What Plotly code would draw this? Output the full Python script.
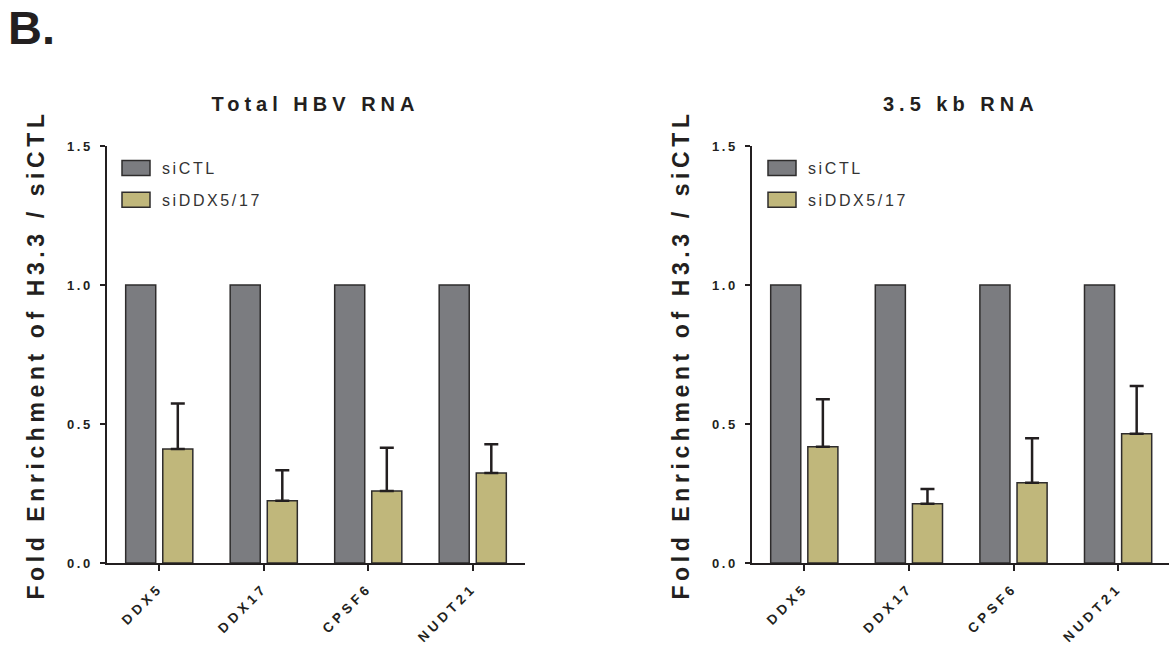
import plotly.graph_objects as go

categories = ["DDX5", "DDX17", "CPSF6", "NUDT21"]
series_names = ["siCTL", "siDDX5/17"]

total_siCTL = [1.0, 1.0, 1.0, 1.0]
total_siDDX = [0.41, 0.224, 0.259, 0.324]
total_siDDX_err = [0.164, 0.11, 0.156, 0.103]

kb_siCTL = [1.0, 1.0, 1.0, 1.0]
kb_siDDX = [0.418, 0.213, 0.289, 0.465]
kb_siDDX_err = [0.171, 0.053, 0.16, 0.172]

panel_titles = ["Total HBV RNA", "3.5 kb RNA"]
y_title = "Fold Enrichment of H3.3 / siCTL"
y_tickvals = [0.0, 0.5, 1.0, 1.5]
y_ticktext = ["0.0", "0.5", "1.0", "1.5"]

GRAY = "#7b7c80"
GOLD = "#c0b77b"
EDGE = "#2e2c2c"
INK = "#231f20"
FONT = "Arial, 'Liberation Sans', sans-serif"

W, H = 1169, 648

fig = go.Figure()

def add_panel(xa, ya, ctl, ddx, err, legend):
    fig.add_trace(go.Bar(
        x=categories, y=ctl, name=series_names[0], xaxis=xa, yaxis=ya,
        marker=dict(color=GRAY, line=dict(color=EDGE, width=1.5)),
        legend=legend, legendgroup=legend + "a",
    ))
    fig.add_trace(go.Bar(
        x=categories, y=ddx, name=series_names[1], xaxis=xa, yaxis=ya,
        marker=dict(color=GOLD, line=dict(color=EDGE, width=1.5)),
        error_y=dict(type="data", array=err, arrayminus=[0] * len(err), symmetric=False,
                     color=INK, thickness=2.5, width=7),
        legend=legend, legendgroup=legend + "b",
    ))

add_panel("x", "y", total_siCTL, total_siDDX, total_siDDX_err, "legend")
add_panel("x2", "y2", kb_siCTL, kb_siDDX, kb_siDDX_err, "legend2")

def px_x(p):
    return p / W

def px_y(p):
    return 1 - p / H

y_dom = [px_y(563), px_y(146)]

common_x = dict(
    type="category", showline=True, linecolor=INK, linewidth=1.5,
    ticks="outside", ticklen=6, tickwidth=1.5, tickcolor=INK,
    tickangle=-45, tickfont=dict(family=FONT, size=13.5, color=INK, weight="bold"),
    showgrid=False, zeroline=False, ticklabelstandoff=4, automargin=False,
)
common_y = dict(
    range=[0, 1.5], tickvals=y_tickvals, ticktext=y_ticktext,
    showline=True, linecolor=INK, linewidth=1.5,
    ticks="outside", ticklen=5, tickwidth=1.5, tickcolor=INK,
    tickfont=dict(family=FONT, size=13, color=INK, weight="bold"),
    showgrid=False, zeroline=False, ticklabelstandoff=5, automargin=False,
    title=dict(text=y_title, font=dict(family=FONT, size=23, color=INK, weight="bold"), standoff=24),
)

legend_style = dict(
    xanchor="left", yanchor="top",
    font=dict(family=FONT, size=16, color="#333333"),
    bgcolor="rgba(0,0,0,0)", tracegroupgap=8, itemclick=False, itemwidth=42,
)

fig.update_layout(
    width=W, height=H,
    margin=dict(l=0, r=0, t=0, b=0, pad=0, autoexpand=False),
    paper_bgcolor="white", plot_bgcolor="white",
    barmode="group", bargap=0.29, bargroupgap=0.19,
    font=dict(family=FONT, color=INK),
    xaxis=dict(common_x, domain=[px_x(107), px_x(525)], range=[-0.5, 3.5], anchor="y"),
    yaxis=dict(common_y, domain=y_dom, anchor="x"),
    xaxis2=dict(common_x, domain=[px_x(752), 1.0], range=[-0.5, -0.5 + (W - 752) / 104.6], anchor="y2"),
    yaxis2=dict(common_y, domain=y_dom, anchor="x2"),
    legend=dict(legend_style, x=px_x(110), y=px_y(151)),
    legend2=dict(legend_style, x=px_x(756), y=px_y(151)),
    annotations=[
        dict(text=panel_titles[0], x=px_x(315), y=px_y(104), xref="paper", yref="paper",
             showarrow=False, xanchor="center", yanchor="middle",
             font=dict(family=FONT, size=20, color=INK, weight="bold")),
        dict(text=panel_titles[1], x=px_x(961), y=px_y(104), xref="paper", yref="paper",
             showarrow=False, xanchor="center", yanchor="middle",
             font=dict(family=FONT, size=20, color=INK, weight="bold")),
        dict(text="B.", x=px_x(6), y=px_y(28), xref="paper", yref="paper",
             showarrow=False, xanchor="left", yanchor="middle",
             font=dict(family=FONT, size=47, color=INK, weight="bold")),
    ],
)

post = """
document.body.style.margin = '0';
document.body.style.overflow = 'hidden';
var css = document.createElement('style');
css.textContent =
  '.ytitle, .y2title { letter-spacing: 4.6px; }' +
  '.xtick text, .x2tick text { letter-spacing: 4px; }' +
  '.ytick text, .y2tick text { letter-spacing: 2.5px; }' +
  '.infolayer g[class^="legend"] text, .legendtext { letter-spacing: 2.6px; }' +
  '.annotation[data-index="0"] text, .annotation[data-index="1"] text { letter-spacing: 5px; }';
document.head.appendChild(css);
var gd = document.getElementById('{plot_id}');
gd.querySelectorAll('.scrollbox, g[class^="legend"]').forEach(function (e) {
  e.removeAttribute('clip-path');
});
gd.querySelectorAll('.legendpoints path').forEach(function (p) {
  p.setAttribute('d', 'M14,7.5H-14V-7.5H14Z');
});
gd.querySelectorAll('.infolayer text').forEach(function (t) {
  var s = t.textContent;
  if (s === 'siCTL' || s === 'siDDX5/17') { t.style.letterSpacing = '2.6px'; }
});
"""

fig.write_html("out.html", post_script=post, config={"displayModeBar": False})
